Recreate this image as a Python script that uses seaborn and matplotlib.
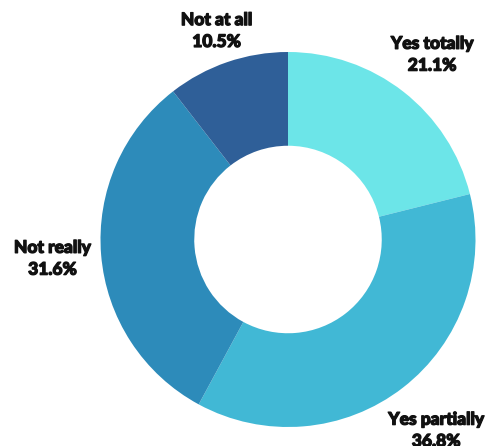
import numpy as np
import matplotlib
matplotlib.use("Agg")
import matplotlib.pyplot as plt
import matplotlib.patheffects as pe
import seaborn as sns

# Survey answers, clockwise from the top
categories = ["Yes totally", "Yes partially", "Not really", "Not at all"]
shares = [21.1, 36.8, 31.6, 10.5]
colors = ["#6ce5e8", "#41b8d5", "#2d8bba", "#2f5f98"]

sns.set_theme(style="white")
plt.rcParams["font.family"] = ["Lato", "DejaVu Sans"]

W, H = 486, 446
fig = plt.figure(figsize=(W / 100, H / 100), dpi=100)
ax = fig.add_axes([0, 0, 1, 1])

cx, cy, R = 288, H - 239.5, 187.5
palette = sns.color_palette(colors)
wedges, _ = ax.pie(
    shares,
    colors=palette,
    startangle=90,
    counterclock=False,
    center=(cx, cy),
    radius=R,
    wedgeprops=dict(width=R * 0.5, linewidth=0),
    frame=True,
)
ax.set_xlim(0, W)
ax.set_ylim(0, H)
ax.set_aspect("equal")
ax.axis("off")

# label distance (in radii) along each wedge's mid-angle
label_dist = [1.25, 1.29, 1.26, 1.175]
heavy = [pe.withStroke(linewidth=0.9, foreground="#111111")]
for w, name, val, d in zip(wedges, categories, shares, label_dist):
    mid = np.deg2rad((w.theta1 + w.theta2) / 2)
    x = cx + d * R * np.cos(mid)
    y = cy + d * R * np.sin(mid)
    ax.text(x, y, f"{name}\n{val:.1f}%", ha="center", va="center",
            fontsize=12.5, fontweight="black", color="#111111",
            linespacing=1.45, path_effects=heavy)

fig.savefig("out.png", dpi=100, facecolor="white")
